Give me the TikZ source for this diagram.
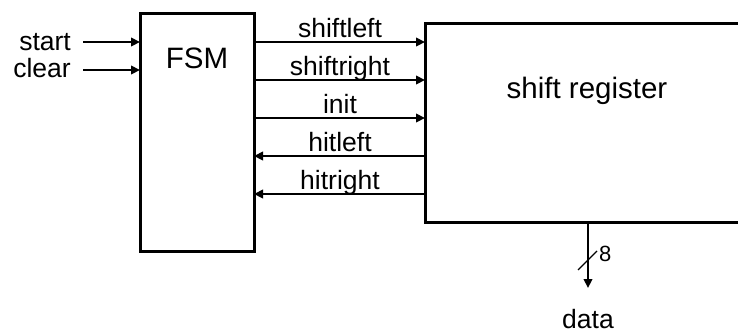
\documentclass[tikz,border=0pt]{standalone}
\usepackage{fontspec}
\setmainfont{Liberation Sans}
\usetikzlibrary{arrows.meta}
\tikzset{
  block/.style={draw, line width=3pt, inner sep=0pt, outer sep=0pt, fill=none},
  sig/.style={line width=2.2pt, -{Triangle[length=9pt,width=8.5pt]}},
  sigtext/.style={anchor=base, inner sep=0pt, font=\fontsize{26.5}{30}\selectfont},
  title/.style={anchor=base, inner sep=0pt, font=\fontsize{29.5}{34}\selectfont},
}
\begin{document}
\begin{tikzpicture}[x=1pt, y=-1pt]
  \useasboundingbox (0,0) rectangle (738,333);
  \clip (0,0) rectangle (738,333);
  % blocks
  \node[block, minimum width=114pt, minimum height=238pt] (fsm) at (197,132) {};
  \node[block, minimum width=375pt, minimum height=199pt] (sr) at (612.5,122.5) {};
  \node[title] (fsmlbl) at (197,68) {FSM};
  \node[title] (srlbl) at (587,98) {shift register};
  % external inputs
  \node[sigtext, anchor=base east] (start) at (71,50) {start};
  \node[sigtext, anchor=base east] (clear) at (71,77) {clear};
  \coordinate (startsrc) at (83,42);
  \coordinate (clearsrc) at (83,70);
  \draw[sig] (startsrc) -- ([yshift=-29pt]fsm.north west);
  \draw[sig] (clearsrc) -- ([yshift=-57pt]fsm.north west);
  % control and status lines
  \draw[sig] ([yshift=-29pt]fsm.north east) -- ([yshift=-19pt]sr.north west);
  \draw[sig] ([yshift=-67pt]fsm.north east) -- ([yshift=-57pt]sr.north west);
  \draw[sig] ([yshift=-105pt]fsm.north east) -- ([yshift=-95pt]sr.north west);
  \draw[sig] ([yshift=-133pt]sr.north west) -- ([yshift=-143pt]fsm.north east);
  \draw[sig] ([yshift=-171pt]sr.north west) -- ([yshift=-181pt]fsm.north east);
  \node[sigtext] (lsl) at (340,37) {shiftleft};
  \node[sigtext] (lsr) at (340,75) {shiftright};
  \node[sigtext] (lin) at (340,113) {init};
  \node[sigtext] (lhl) at (340,151) {hitleft};
  \node[sigtext] (lhr) at (340,189) {hitright};
  % data output bus
  \node[sigtext] (data) at (588,328) {data};
  \coordinate (dataend) at (588,288);
  \draw[sig] (sr.south west -| dataend) -- (dataend);
  \draw[line width=1.2pt] (578,270) -- (597,251);
  \node[anchor=base west, inner sep=0pt, font=\fontsize{22}{26}\selectfont] (width) at (599,261) {8};
\end{tikzpicture}
\end{document}
